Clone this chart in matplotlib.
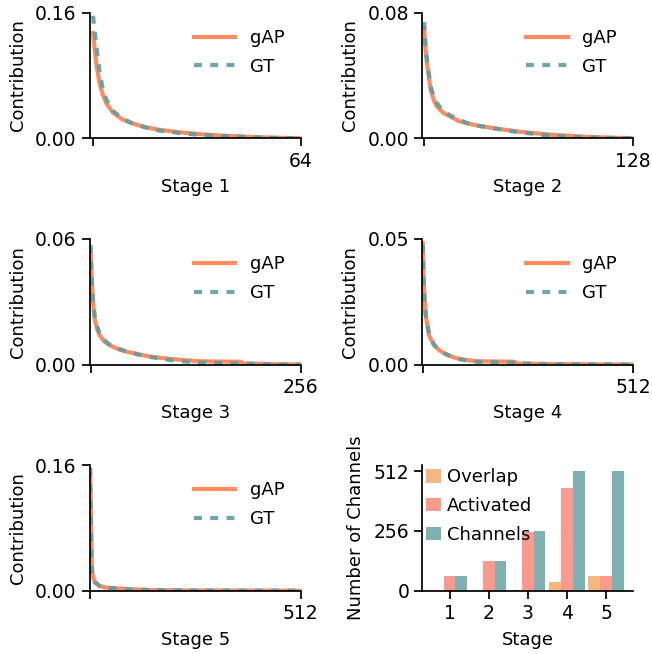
import matplotlib.pyplot as plt
import numpy as np

# contribution curves (sorted at sample channel indices)
x1 = [1, 2, 3, 4, 5, 7, 10, 13, 17, 21, 27, 33, 40, 48, 56, 64]
gap1 = [0.134, 0.095, 0.070, 0.055, 0.045, 0.033, 0.024, 0.019, 0.014, 0.011, 0.0078, 0.0055, 0.0035, 0.002, 0.0008, 0.0002]
gt1 = [0.156, 0.118, 0.085, 0.062, 0.050, 0.035, 0.025, 0.019, 0.014, 0.010, 0.007, 0.0045, 0.003, 0.0015, 0.0006, 0.0001]

x2 = [1, 2, 3, 5, 7, 9, 13, 17, 22, 27, 35, 44, 58, 78, 99, 115, 128]
gap2 = [0.070, 0.055, 0.046, 0.031, 0.024, 0.020, 0.016, 0.0139, 0.011, 0.0096, 0.0078, 0.0064, 0.0043, 0.0023, 0.001, 0.0004, 0.0001]
gt2 = [0.074, 0.058, 0.048, 0.033, 0.026, 0.022, 0.017, 0.0145, 0.012, 0.0098, 0.0078, 0.0062, 0.004, 0.0016, 0.0006, 0.0003, 0.0001]

x3 = [1, 2, 3, 4, 6, 9, 12, 18, 24, 35, 45, 60, 75, 100, 130, 160, 183, 187, 220, 256]
gap3 = [0.0547, 0.045, 0.036, 0.030, 0.022, 0.017, 0.014, 0.011, 0.0093, 0.0073, 0.0061, 0.0048, 0.0037, 0.0026, 0.0016, 0.0014, 0.0013, 0.0005, 0.0002, 0.0]
gt3 = [0.057, 0.047, 0.038, 0.031, 0.023, 0.018, 0.015, 0.0115, 0.0096, 0.0075, 0.0062, 0.0047, 0.0035, 0.0020, 0.0010, 0.0007, 0.0005, 0.0004, 0.0002, 0.0]

x4 = [1, 2, 4, 8, 16, 28, 40, 53, 70, 85, 110, 134, 180, 224, 230, 300, 400, 512]
gap4 = [0.0483, 0.040, 0.029, 0.0197, 0.0117, 0.0077, 0.0058, 0.0044, 0.0032, 0.0024, 0.0017, 0.0013, 0.0012, 0.0011, 0.0004, 0.0002, 0.0001, 0.0]
gt4 = [0.0476, 0.040, 0.029, 0.020, 0.012, 0.0079, 0.0059, 0.0045, 0.0031, 0.0023, 0.0015, 0.0011, 0.0009, 0.0007, 0.0005, 0.0002, 0.0001, 0.0]

x5 = [1, 2, 3, 4, 5, 7, 12, 24, 40, 65, 100, 150, 250, 512]
gap5 = [0.154, 0.125, 0.094, 0.060, 0.031, 0.020, 0.0115, 0.006, 0.004, 0.003, 0.0018, 0.0008, 0.0003, 0.0]
gt5 = [0.156, 0.120, 0.090, 0.058, 0.030, 0.019, 0.011, 0.0058, 0.0038, 0.0028, 0.0016, 0.0007, 0.0003, 0.0]

n_channels = [64, 128, 256, 512, 512]
y_max = [0.16, 0.08, 0.06, 0.05, 0.16]
y_tick_labels = ['0.16', '0.08', '0.06', '0.05', '0.16']

# bar chart
stages = [1, 2, 3, 4, 5]
overlap = [0, 0, 3, 38, 61]
activated = [64, 128, 252, 441, 65]
channels = [64, 128, 256, 512, 512]

size = 13
tick_size = 13.5
plt.rcParams['font.family'] = ['DejaVu Sans']
plt.rcParams['font.size'] = size


def style_axes(ax):
    ax.spines['top'].set_visible(False)
    ax.spines['right'].set_visible(False)
    ax.tick_params(length=6, width=1.25, labelsize=tick_size)
    for s in ['left', 'bottom']:
        ax.spines[s].set_linewidth(1.25)


def main():
    fig, axes = plt.subplots(3, 2, figsize=(6.52, 6.54), dpi=100)
    fig.subplots_adjust(left=0.1376, right=0.9713, top=0.9806, bottom=0.0968,
                        wspace=0.578, hspace=0.80)
    curves = [(x1, gap1, gt1), (x2, gap2, gt2), (x3, gap3, gt3),
              (x4, gap4, gt4), (x5, gap5, gt5)]
    flat = axes.flatten()
    for i, (xs, g, t) in enumerate(curves):
        ax = flat[i]
        ax.plot(xs, g, color='coral', alpha=0.9, lw=3, label='gAP')
        ax.plot(xs, t, color='cadetblue', alpha=0.9, lw=3, dashes=(1.9, 2.0), label='GT')
        n = n_channels[i]
        ax.set_xlim(0, n)
        ax.set_ylim(0, y_max[i])
        ax.set_xticks([1, n])
        ax.set_xticklabels(['', str(n)])
        ax.set_yticks([0, y_max[i]])
        ax.set_yticklabels(['0.00', y_tick_labels[i]])
        ax.set_xlabel('Stage %d' % (i + 1), fontsize=size, labelpad=5.5)
        ax.set_ylabel('Contribution', fontsize=size, labelpad=6)
        ax.legend(loc='upper right', frameon=False, fontsize=size,
                  handlelength=2.3, labelspacing=0.6)
        style_axes(ax)

    # 通道数柱状图
    ax = flat[5]
    pos = np.array(stages)
    w = 0.3
    ax.bar(pos - w, overlap, w, color='sandybrown', alpha=0.8, label='Overlap')
    ax.bar(pos, activated, w, color='salmon', alpha=0.8, label='Activated')
    ax.bar(pos + w, channels, w, color='cadetblue', alpha=0.8, label='Channels')
    ax.set_xticks(stages)
    ax.set_yticks([0, 256, 512])
    ax.set_xlabel('Stage', fontsize=size, labelpad=5.5)
    ax.set_ylabel('Number of Channels', fontsize=size, labelpad=6)
    ax.legend(loc='upper left', frameon=False, fontsize=size, handlelength=0.87,
              handleheight=0.78, handletextpad=0.3, borderaxespad=-0.23,
              labelspacing=0.6)
    style_axes(ax)

    fig.savefig('out.png', dpi=100)


if __name__ == '__main__':
    main()
